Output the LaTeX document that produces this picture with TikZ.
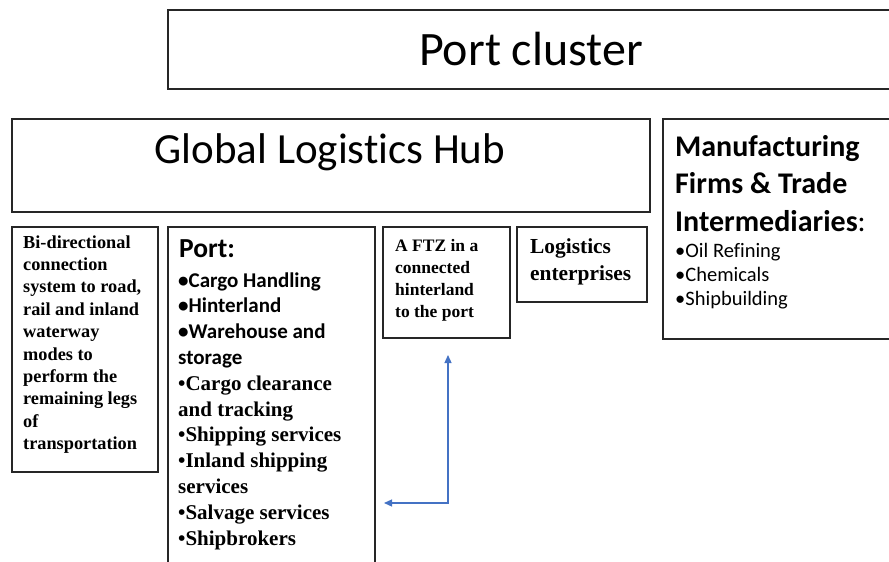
\documentclass[tikz,border=0pt]{standalone}
\usepackage{fontspec}
\setmainfont{Liberation Serif}
\newfontfamily\calibri[Ligatures=NoCommon]{Carlito}
\usetikzlibrary{arrows.meta}
\definecolor{linkblue}{HTML}{4472C4}
% left-aligned stack of lines whose baseline is the first line
\newcommand\linestack[1]{\begin{tabular}[t]{@{}l@{}}#1\end{tabular}}

\begin{document}
\begin{tikzpicture}[x=1pt,y=-1pt,
  box/.style={draw=black!85, line width=1.4pt, rectangle, inner sep=0pt, outer sep=0pt, anchor=north west},
  txt/.style={inner sep=0pt, anchor=base west},
  title/.style={inner sep=0pt, anchor=base, font=\calibri},
  link/.style={draw=linkblue, line width=1.3pt, {Triangle[length=8pt,width=7pt]}-{Triangle[length=8pt,width=7pt]}},
]
\clip (0,0) rectangle (889,562);

% frames
\node[box, minimum width=735pt, minimum height=79pt]  (cluster) at (168,10)  {};
\node[box, minimum width=638pt, minimum height=93pt]  (glh)     at (12,119)  {};
\node[box, minimum width=240pt, minimum height=220pt] (mfg)     at (663,119) {};
\node[box, minimum width=146pt, minimum height=245pt] (bidir)   at (12,227)  {};
\node[box, minimum width=207pt, minimum height=360pt] (port)    at (168,227) {};
\node[box, minimum width=127pt, minimum height=111pt] (ftz)     at (383,227) {};
\node[box, minimum width=130pt, minimum height=75pt]  (logi)    at (517,227) {};

% headings
\node[title, font=\calibri\fontsize{48}{57}\selectfont] (clustertxt) at (531,65) {Port cluster};
\node[title, font=\calibri\fontsize{43}{52}\selectfont] (glhtxt) at (330,163) {Global Logistics Hub};

% manufacturing box
\node[txt, font=\calibri\fontsize{30}{37.5}\selectfont] (mfgtxt) at (675,156)
  {\linestack{\bfseries Manufacturing\\ \bfseries Firms \& Trade\\ {\bfseries Intermediaries}:}};
\node[txt, font=\calibri\fontsize{20.5}{24}\selectfont] (mfglist) at (675,257)
  {\linestack{•Oil Refining\\ •Chemicals\\ •Shipbuilding}};

% connection system box
\node[txt, font=\bfseries\fontsize{18.3}{22.4}\selectfont] (bidirtxt) at (23,248)
  {\linestack{Bi-directional\\ connection\\ system to road,\\ rail and inland\\ waterway\\ modes to\\ perform the\\ remaining legs\\ of\\ transportation}};

% port box
\node[txt, font=\calibri\bfseries\fontsize{27.5}{33}\selectfont] (porthead) at (179,257) {Port:};
\node[txt, font=\bfseries\fontsize{21}{25.8}\selectfont] (portlist) at (178,287)
  {\linestack{{\calibri •Cargo Handling}\\ {\calibri •Hinterland}\\ {\calibri •Warehouse and}\\ {\calibri storage}\\
   •Cargo clearance\\ and tracking\\ •Shipping services\\ •Inland shipping\\ services\\ •Salvage services\\ •Shipbrokers}};

% free trade zone box
\node[txt, font=\bfseries\fontsize{17.5}{22}\selectfont] (ftztxt) at (395,251)
  {\linestack{A FTZ in a\\ connected\\ hinterland\\ to the port}};

% logistics enterprises box
\node[txt, font=\bfseries\fontsize{21.4}{27}\selectfont] (logitxt) at (530,253)
  {\linestack{Logistics\\ enterprises}};

% two-way link between the port and the free trade zone
\coordinate (bend) at (448,503);
\path (port.east |- bend) ++(9,0) coordinate (porttip);
\path (ftz.south -| bend) ++(0,17) coordinate (ftztip);
\draw[link] (porttip) -- (bend) -- (ftztip);
\end{tikzpicture}
\end{document}
